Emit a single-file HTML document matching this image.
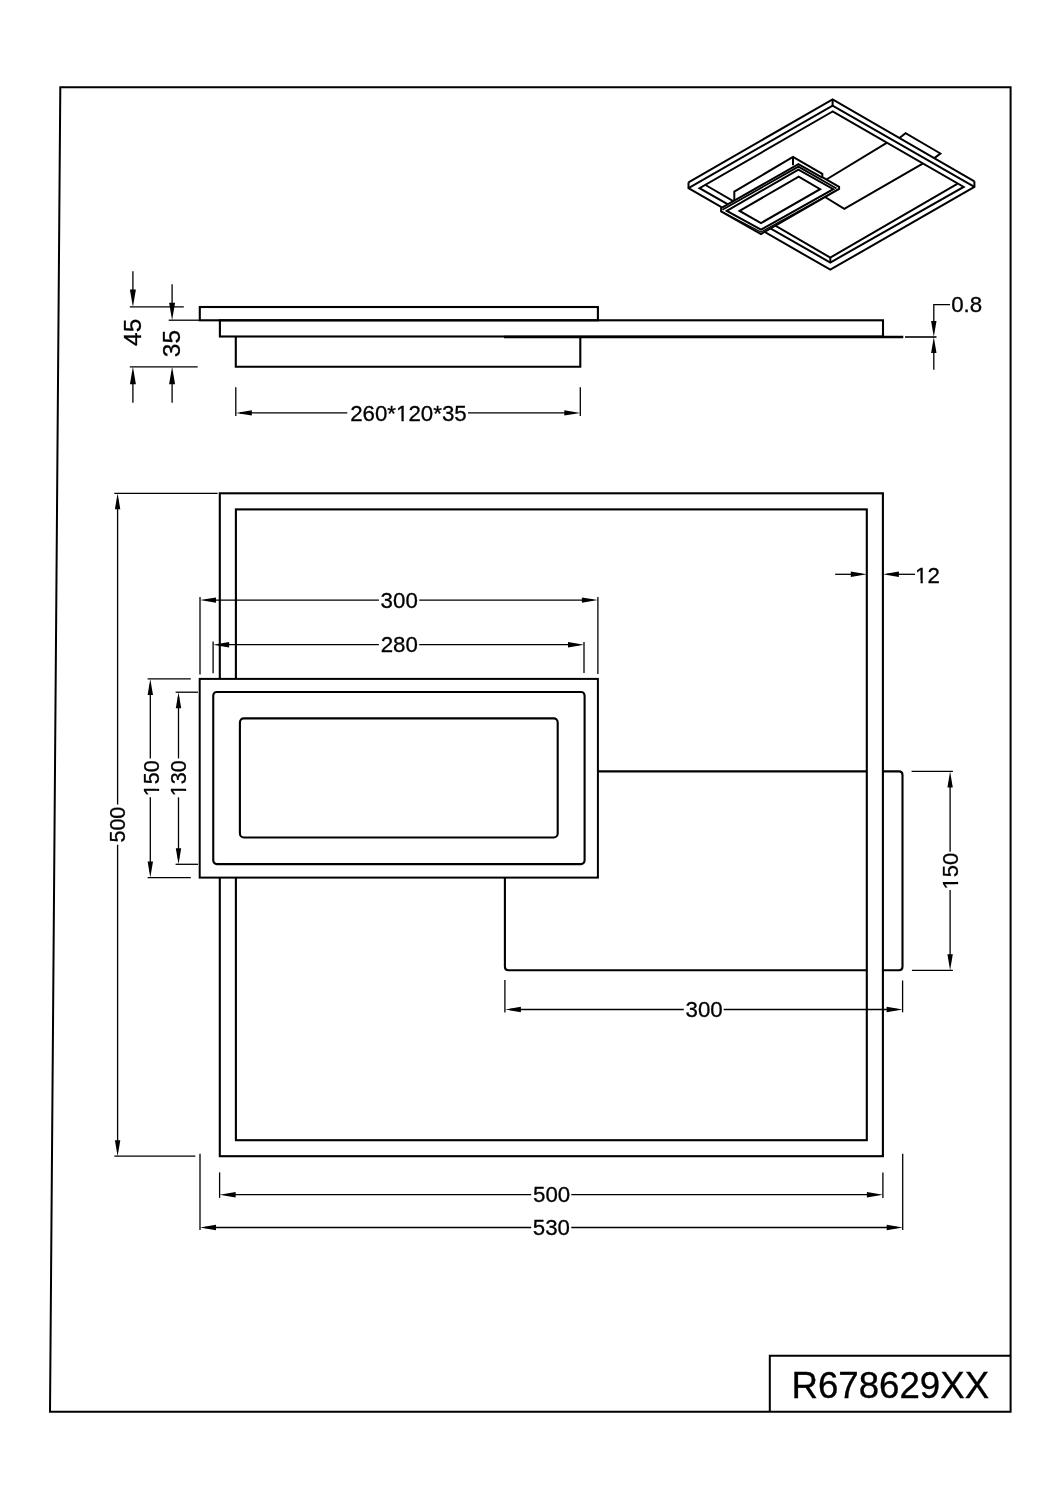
<!DOCTYPE html>
<html><head><meta charset="utf-8"><style>
html,body{margin:0;padding:0;background:#fff;width:1061px;height:1500px;overflow:hidden}
svg{display:block;will-change:transform}
text{font-family:"Liberation Sans",sans-serif;fill:#000}
</style></head><body>
<svg width="1061" height="1500" viewBox="0 0 1061 1500">
<rect width="1061" height="1500" fill="#fff"/>
<polygon points="60.30,87.20 1010.60,87.20 1010.60,1411.80 50.00,1411.80" fill="none" stroke="#000" stroke-width="2.0" stroke-linejoin="miter"/>
<polyline points="769.80,1411.80 769.80,1355.80 1010.60,1355.80" fill="none" stroke="#000" stroke-width="2.0" stroke-linejoin="miter"/>
<g transform="translate(890.30,1398.30) scale(0.97,1)"><text x="0" y="0" font-size="37.8" text-anchor="middle" stroke="#000" stroke-width="0.35">R678629XX</text></g>
<rect x="199.80" y="307.00" width="398.10" height="13.30" rx="0" fill="none" stroke="#000" stroke-width="2.1"/>
<rect x="219.90" y="320.30" width="663.10" height="16.20" rx="0" fill="none" stroke="#000" stroke-width="2.1"/>
<polyline points="235.80,336.50 235.80,366.80 580.30,366.80 580.30,336.50" fill="none" stroke="#000" stroke-width="2.1" stroke-linejoin="miter"/>
<line x1="504.00" y1="337.00" x2="903.30" y2="337.00" stroke="#000" stroke-width="2.7"/>
<line x1="905.00" y1="337.00" x2="936.50" y2="337.00" stroke="#000" stroke-width="1.6"/>
<line x1="129.80" y1="306.80" x2="183.80" y2="306.80" stroke="#000" stroke-width="1.3"/>
<line x1="168.70" y1="320.20" x2="199.00" y2="320.20" stroke="#000" stroke-width="1.3"/>
<line x1="129.80" y1="366.80" x2="197.70" y2="366.80" stroke="#000" stroke-width="1.3"/>
<line x1="132.90" y1="271.30" x2="132.90" y2="300.00" stroke="#000" stroke-width="1.3"/>
<polygon points="132.90,306.90 129.90,289.40 135.90,289.40" fill="#000"/>
<line x1="132.90" y1="372.00" x2="132.90" y2="402.80" stroke="#000" stroke-width="1.3"/>
<polygon points="132.90,366.80 135.90,384.30 129.90,384.30" fill="#000"/>
<line x1="172.10" y1="284.30" x2="172.10" y2="312.00" stroke="#000" stroke-width="1.3"/>
<polygon points="172.10,320.20 169.10,302.70 175.10,302.70" fill="#000"/>
<line x1="172.10" y1="372.00" x2="172.10" y2="402.80" stroke="#000" stroke-width="1.3"/>
<polygon points="172.10,366.80 175.10,384.30 169.10,384.30" fill="#000"/>
<g transform="translate(140.90,332.30) rotate(-90) scale(1.0,1)"><text x="0" y="0" font-size="24.5" text-anchor="middle" stroke="#000" stroke-width="0.3">45</text></g>
<g transform="translate(180.40,343.60) rotate(-90) scale(1.0,1)"><text x="0" y="0" font-size="24.5" text-anchor="middle" stroke="#000" stroke-width="0.3">35</text></g>
<polyline points="950.00,304.70 933.80,304.70 933.80,330.00" fill="none" stroke="#000" stroke-width="1.3" stroke-linejoin="miter"/>
<line x1="933.80" y1="345.00" x2="933.80" y2="369.70" stroke="#000" stroke-width="1.3"/>
<polygon points="933.80,337.00 931.10,321.00 936.50,321.00" fill="#000"/>
<polygon points="933.80,337.00 936.50,353.00 931.10,353.00" fill="#000"/>
<g transform="translate(966.70,312.30) scale(0.97,1)"><text x="0" y="0" font-size="23.0" text-anchor="middle" stroke="#000" stroke-width="0.3">0.8</text></g>
<line x1="235.80" y1="387.30" x2="235.80" y2="416.00" stroke="#000" stroke-width="1.3"/>
<line x1="580.30" y1="387.30" x2="580.30" y2="416.00" stroke="#000" stroke-width="1.3"/>
<line x1="240.00" y1="412.90" x2="347.30" y2="412.90" stroke="#000" stroke-width="1.3"/>
<line x1="468.00" y1="412.90" x2="575.00" y2="412.90" stroke="#000" stroke-width="1.3"/>
<polygon points="235.80,412.90 251.80,410.20 251.80,415.60" fill="#000"/>
<polygon points="580.30,412.90 564.30,415.60 564.30,410.20" fill="#000"/>
<g transform="translate(408.40,421.20) scale(0.97,1)"><text x="0" y="0" font-size="23.0" text-anchor="middle" stroke="#000" stroke-width="0.3">260*120*35</text><rect x="-12.12" y="-2.40" width="4.94" height="4.00" fill="#fff"/><rect x="-4.80" y="-2.40" width="4.53" height="4.00" fill="#fff"/></g>
<rect x="219.80" y="493.30" width="663.10" height="662.90" rx="0" fill="none" stroke="#000" stroke-width="2.1"/>
<rect x="235.90" y="509.40" width="630.90" height="630.80" rx="0" fill="none" stroke="#000" stroke-width="2.1"/>
<path d="M 597.9 771.4 H 867.1 M 882.9 771.4 H 899.0 Q 902.5 771.4 902.5 774.9 V 966.7 Q 902.5 970.2 899.0 970.2 H 882.9 M 867.1 970.2 H 508.4 Q 504.9 970.2 504.9 966.7 V 877.6" fill="none" stroke="#000" stroke-width="2.1"/>
<rect x="199.7" y="678.9" width="398.2" height="198.7" fill="#fff" stroke="#000" stroke-width="2"/>
<rect x="213.25" y="692.00" width="371.35" height="172.10" rx="3.5" fill="none" stroke="#000" stroke-width="2.1"/>
<rect x="239.90" y="718.40" width="317.80" height="119.10" rx="4" fill="none" stroke="#000" stroke-width="2.1"/>
<line x1="114.30" y1="493.30" x2="217.60" y2="493.30" stroke="#000" stroke-width="1.3"/>
<line x1="114.30" y1="1156.20" x2="195.30" y2="1156.20" stroke="#000" stroke-width="1.3"/>
<line x1="117.60" y1="499.00" x2="117.60" y2="804.60" stroke="#000" stroke-width="1.3"/>
<line x1="117.60" y1="844.80" x2="117.60" y2="1150.00" stroke="#000" stroke-width="1.3"/>
<polygon points="117.60,493.30 120.30,509.30 114.90,509.30" fill="#000"/>
<polygon points="117.60,1156.20 114.90,1140.20 120.30,1140.20" fill="#000"/>
<g transform="translate(124.70,824.60) rotate(-90) scale(0.95,1)"><text x="0" y="0" font-size="22.6" text-anchor="middle" stroke="#000" stroke-width="0.3">500</text></g>
<line x1="147.60" y1="678.90" x2="190.80" y2="678.90" stroke="#000" stroke-width="1.3"/>
<line x1="147.60" y1="877.60" x2="190.80" y2="877.60" stroke="#000" stroke-width="1.3"/>
<line x1="175.60" y1="692.20" x2="198.00" y2="692.20" stroke="#000" stroke-width="1.3"/>
<line x1="175.60" y1="864.30" x2="198.00" y2="864.30" stroke="#000" stroke-width="1.3"/>
<line x1="150.30" y1="684.00" x2="150.30" y2="758.40" stroke="#000" stroke-width="1.3"/>
<line x1="150.30" y1="797.30" x2="150.30" y2="872.00" stroke="#000" stroke-width="1.3"/>
<polygon points="150.30,678.90 153.00,694.90 147.60,694.90" fill="#000"/>
<polygon points="150.30,877.60 147.60,861.60 153.00,861.60" fill="#000"/>
<line x1="178.50" y1="697.00" x2="178.50" y2="758.40" stroke="#000" stroke-width="1.3"/>
<line x1="178.50" y1="797.30" x2="178.50" y2="859.00" stroke="#000" stroke-width="1.3"/>
<polygon points="178.50,692.20 181.20,708.20 175.80,708.20" fill="#000"/>
<polygon points="178.50,864.30 175.80,848.30 181.20,848.30" fill="#000"/>
<g transform="translate(158.50,778.30) rotate(-90) scale(0.95,1)"><text x="0" y="0" font-size="22.6" text-anchor="middle" stroke="#000" stroke-width="0.3">150</text><rect x="-18.19" y="-2.37" width="4.86" height="3.97" fill="#fff"/><rect x="-11.00" y="-2.37" width="4.45" height="3.97" fill="#fff"/></g>
<g transform="translate(186.10,778.30) rotate(-90) scale(0.95,1)"><text x="0" y="0" font-size="22.6" text-anchor="middle" stroke="#000" stroke-width="0.3">130</text><rect x="-18.19" y="-2.37" width="4.86" height="3.97" fill="#fff"/><rect x="-11.00" y="-2.37" width="4.45" height="3.97" fill="#fff"/></g>
<line x1="200.00" y1="597.00" x2="200.00" y2="674.40" stroke="#000" stroke-width="1.3"/>
<line x1="597.90" y1="597.00" x2="597.90" y2="674.00" stroke="#000" stroke-width="1.3"/>
<line x1="213.10" y1="641.60" x2="213.10" y2="673.30" stroke="#000" stroke-width="1.3"/>
<line x1="584.00" y1="642.00" x2="584.00" y2="672.90" stroke="#000" stroke-width="1.3"/>
<line x1="205.00" y1="600.10" x2="378.90" y2="600.10" stroke="#000" stroke-width="1.3"/>
<line x1="419.20" y1="600.10" x2="593.00" y2="600.10" stroke="#000" stroke-width="1.3"/>
<polygon points="200.00,600.10 216.00,597.40 216.00,602.80" fill="#000"/>
<polygon points="597.90,600.10 581.90,602.80 581.90,597.40" fill="#000"/>
<line x1="218.00" y1="644.70" x2="378.90" y2="644.70" stroke="#000" stroke-width="1.3"/>
<line x1="419.20" y1="644.70" x2="579.00" y2="644.70" stroke="#000" stroke-width="1.3"/>
<polygon points="213.10,644.70 229.10,642.00 229.10,647.40" fill="#000"/>
<polygon points="584.00,644.70 568.00,647.40 568.00,642.00" fill="#000"/>
<g transform="translate(399.20,608.30) scale(0.97,1)"><text x="0" y="0" font-size="23.0" text-anchor="middle" stroke="#000" stroke-width="0.3">300</text></g>
<g transform="translate(399.30,651.80) scale(0.97,1)"><text x="0" y="0" font-size="23.0" text-anchor="middle" stroke="#000" stroke-width="0.3">280</text></g>
<line x1="835.20" y1="574.30" x2="862.00" y2="574.30" stroke="#000" stroke-width="1.3"/>
<line x1="887.00" y1="574.30" x2="915.00" y2="574.30" stroke="#000" stroke-width="1.3"/>
<polygon points="866.80,574.30 850.80,577.00 850.80,571.60" fill="#000"/>
<polygon points="882.90,574.30 898.90,571.60 898.90,577.00" fill="#000"/>
<g transform="translate(915.10,582.60) scale(0.97,1)"><text x="0" y="0" font-size="23.0" text-anchor="start" stroke="#000" stroke-width="0.3">12</text><rect x="0.67" y="-2.40" width="4.94" height="4.00" fill="#fff"/><rect x="8.00" y="-2.40" width="4.53" height="4.00" fill="#fff"/></g>
<line x1="911.60" y1="771.40" x2="952.90" y2="771.40" stroke="#000" stroke-width="1.3"/>
<line x1="911.90" y1="970.30" x2="952.90" y2="970.30" stroke="#000" stroke-width="1.3"/>
<line x1="950.10" y1="777.00" x2="950.10" y2="851.80" stroke="#000" stroke-width="1.3"/>
<line x1="950.10" y1="890.00" x2="950.10" y2="965.00" stroke="#000" stroke-width="1.3"/>
<polygon points="950.10,771.40 952.80,787.40 947.40,787.40" fill="#000"/>
<polygon points="950.10,970.30 947.40,954.30 952.80,954.30" fill="#000"/>
<g transform="translate(958.00,871.20) rotate(-90) scale(0.96,1)"><text x="0" y="0" font-size="22.9" text-anchor="middle" stroke="#000" stroke-width="0.3">150</text><rect x="-18.43" y="-2.39" width="4.92" height="3.99" fill="#fff"/><rect x="-11.14" y="-2.39" width="4.51" height="3.99" fill="#fff"/></g>
<line x1="504.90" y1="980.10" x2="504.90" y2="1012.40" stroke="#000" stroke-width="1.3"/>
<line x1="902.60" y1="980.50" x2="902.60" y2="1012.30" stroke="#000" stroke-width="1.3"/>
<line x1="510.00" y1="1009.50" x2="683.80" y2="1009.50" stroke="#000" stroke-width="1.3"/>
<line x1="723.70" y1="1009.50" x2="897.00" y2="1009.50" stroke="#000" stroke-width="1.3"/>
<polygon points="504.90,1009.50 520.90,1006.80 520.90,1012.20" fill="#000"/>
<polygon points="902.60,1009.50 886.60,1012.20 886.60,1006.80" fill="#000"/>
<g transform="translate(704.10,1017.20) scale(0.97,1)"><text x="0" y="0" font-size="23.0" text-anchor="middle" stroke="#000" stroke-width="0.3">300</text></g>
<line x1="219.60" y1="1172.40" x2="219.60" y2="1197.90" stroke="#000" stroke-width="1.3"/>
<line x1="882.90" y1="1172.40" x2="882.90" y2="1197.90" stroke="#000" stroke-width="1.3"/>
<line x1="200.00" y1="1153.80" x2="200.00" y2="1230.10" stroke="#000" stroke-width="1.3"/>
<line x1="902.70" y1="1153.80" x2="902.70" y2="1230.10" stroke="#000" stroke-width="1.3"/>
<line x1="225.00" y1="1194.70" x2="531.20" y2="1194.70" stroke="#000" stroke-width="1.3"/>
<line x1="571.30" y1="1194.70" x2="877.00" y2="1194.70" stroke="#000" stroke-width="1.3"/>
<polygon points="219.60,1194.70 235.60,1192.00 235.60,1197.40" fill="#000"/>
<polygon points="882.90,1194.70 866.90,1197.40 866.90,1192.00" fill="#000"/>
<line x1="205.00" y1="1227.50" x2="531.20" y2="1227.50" stroke="#000" stroke-width="1.3"/>
<line x1="571.30" y1="1227.50" x2="897.00" y2="1227.50" stroke="#000" stroke-width="1.3"/>
<polygon points="200.00,1227.50 216.00,1224.80 216.00,1230.20" fill="#000"/>
<polygon points="902.70,1227.50 886.70,1230.20 886.70,1224.80" fill="#000"/>
<g transform="translate(551.60,1202.30) scale(0.97,1)"><text x="0" y="0" font-size="23.0" text-anchor="middle" stroke="#000" stroke-width="0.3">500</text></g>
<g transform="translate(551.40,1235.30) scale(0.97,1)"><text x="0" y="0" font-size="23.0" text-anchor="middle" stroke="#000" stroke-width="0.3">530</text></g>
<polyline points="688.50,182.30 832.60,99.40 974.40,181.30" fill="none" stroke="#000" stroke-width="2.0" stroke-linejoin="miter" stroke-miterlimit="10"/>
<polyline points="688.50,182.30 688.50,188.20 830.30,269.70 974.40,186.90 974.40,181.30" fill="none" stroke="#000" stroke-width="2.0" stroke-linejoin="miter" stroke-miterlimit="10"/>
<polyline points="688.50,188.20 832.60,105.60 974.40,186.90" fill="none" stroke="#000" stroke-width="2.0" stroke-linejoin="miter" stroke-miterlimit="10"/>
<polyline points="832.60,99.40 832.60,105.60" fill="none" stroke="#000" stroke-width="2.0" stroke-linejoin="miter" stroke-miterlimit="10"/>
<polygon points="832.60,111.50 699.50,188.20 830.30,262.50 963.70,186.90" fill="none" stroke="#000" stroke-width="2.0" stroke-linejoin="miter" stroke-miterlimit="10"/>
<polyline points="705.50,185.00 830.30,257.60 957.30,183.90" fill="none" stroke="#000" stroke-width="2.0" stroke-linejoin="miter" stroke-miterlimit="10"/>
<polyline points="830.30,257.60 830.30,262.50" fill="none" stroke="#000" stroke-width="2.0" stroke-linejoin="miter" stroke-miterlimit="10"/>
<polyline points="886.70,142.80 826.40,179.50" fill="none" stroke="#000" stroke-width="2.0" stroke-linejoin="miter" stroke-miterlimit="10"/>
<polyline points="825.00,197.00 844.30,208.90 922.70,163.60" fill="none" stroke="#000" stroke-width="2.0" stroke-linejoin="miter" stroke-miterlimit="10"/>
<polyline points="899.40,138.00 905.60,133.20 940.40,153.50 934.30,158.10" fill="none" stroke="#000" stroke-width="2.0" stroke-linejoin="miter" stroke-miterlimit="10"/>
<polygon points="721.10,211.40 721.10,208.10 734.30,200.70 734.30,191.60 793.00,157.00 822.30,173.90 822.30,177.20 839.10,186.80 839.10,188.90 761.00,234.00" fill="#fff" stroke="#000" stroke-width="2.0" stroke-linejoin="miter" stroke-miterlimit="10"/>
<polyline points="734.30,200.70 798.40,164.10 822.30,177.60" fill="none" stroke="#000" stroke-width="2.0" stroke-linejoin="miter" stroke-miterlimit="10"/>
<polyline points="793.00,157.00 793.00,165.30" fill="none" stroke="#000" stroke-width="2.0" stroke-linejoin="miter" stroke-miterlimit="10"/>
<polyline points="722.50,209.80 798.40,166.60 836.50,188.50" fill="none" stroke="#000" stroke-width="1.8" stroke-linejoin="miter" stroke-miterlimit="10"/>
<polyline points="721.10,211.40 761.00,232.00 839.10,188.90" fill="none" stroke="#000" stroke-width="1.2" stroke-linejoin="miter" stroke-miterlimit="10"/>
<polygon points="726.80,210.90 798.40,169.60 833.30,189.20 761.00,229.70" fill="none" stroke="#000" stroke-width="2.0" stroke-linejoin="miter" stroke-miterlimit="10"/>
<polygon points="739.60,210.90 798.70,176.70 820.10,189.20 761.00,223.10" fill="none" stroke="#000" stroke-width="2.0" stroke-linejoin="miter" stroke-miterlimit="10"/>
</svg>
</body></html>
